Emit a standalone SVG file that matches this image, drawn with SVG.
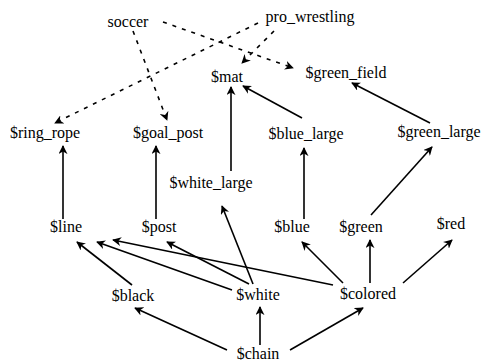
<svg xmlns="http://www.w3.org/2000/svg" width="487" height="362" viewBox="0 0 487 362">
<defs>
<marker id="ah" viewBox="0 0 10 10" refX="9" refY="5" markerWidth="9" markerHeight="9" markerUnits="userSpaceOnUse" orient="auto">
<path d="M0,0 L10,5 L0,10 L3,5 Z" fill="#000"/>
</marker>
<style>
text{font-family:"Liberation Serif","DejaVu Serif",serif;font-size:16px;fill:#000;text-anchor:middle}
.e{stroke:#000;stroke-width:1.6;fill:none;marker-end:url(#ah)}
.d{stroke-dasharray:4 6}
</style>
</defs>
<rect width="487" height="362" fill="#fff"/>
<g id="connectors">
<line class="e d" x1="163" y1="22" x2="293" y2="68"/>
<line class="e d" x1="133" y1="31" x2="167" y2="120"/>
<line class="e d" x1="258" y1="23" x2="55" y2="123"/>
<line class="e d" x1="274" y1="31" x2="242" y2="63"/>
<line class="e" x1="231" y1="171" x2="231" y2="87"/>
<line class="e" x1="302" y1="118" x2="243" y2="86"/>
<line class="e" x1="430" y1="123" x2="352" y2="83"/>
<line class="e" x1="63" y1="219" x2="63" y2="146"/>
<line class="e" x1="156" y1="219" x2="156" y2="146"/>
<line class="e" x1="304" y1="219" x2="304" y2="148"/>
<line class="e" x1="371" y1="215" x2="432" y2="147"/>
<line class="e" x1="253" y1="284" x2="222" y2="206"/>
<line class="e" x1="132" y1="285" x2="77" y2="242"/>
<line class="e" x1="232" y1="290" x2="97" y2="242"/>
<line class="e" x1="333" y1="285" x2="113" y2="240"/>
<line class="e" x1="249" y1="284" x2="167" y2="242"/>
<line class="e" x1="343" y1="283" x2="302" y2="242"/>
<line class="e" x1="370" y1="283" x2="370" y2="240"/>
<line class="e" x1="403" y1="283" x2="452" y2="240"/>
<line class="e" x1="227" y1="350" x2="135" y2="308"/>
<line class="e" x1="260" y1="345" x2="260" y2="307"/>
<line class="e" x1="290" y1="350" x2="363" y2="308"/>
</g>
<g id="soccer"><text x="128" y="27">soccer</text></g>
<g id="pro_wrestling"><text x="310" y="22">pro_wrestling</text></g>
<g id="mat"><text x="227" y="82">$mat</text></g>
<g id="green_field"><text x="346" y="78">$green_field</text></g>
<g id="ring_rope"><text x="45" y="138">$ring_rope</text></g>
<g id="goal_post"><text x="168" y="138">$goal_post</text></g>
<g id="blue_large"><text x="306" y="139">$blue_large</text></g>
<g id="green_large"><text x="439" y="137">$green_large</text></g>
<g id="white_large"><text x="211" y="188">$white_large</text></g>
<g id="line"><text x="66" y="232">$line</text></g>
<g id="post"><text x="159" y="232">$post</text></g>
<g id="blue"><text x="292" y="232">$blue</text></g>
<g id="green"><text x="361" y="232">$green</text></g>
<g id="red"><text x="451" y="229">$red</text></g>
<g id="black"><text x="133" y="301">$black</text></g>
<g id="white"><text x="258" y="300">$white</text></g>
<g id="colored"><text x="368" y="299">$colored</text></g>
<g id="chain"><text x="258" y="359">$chain</text></g>
</svg>
